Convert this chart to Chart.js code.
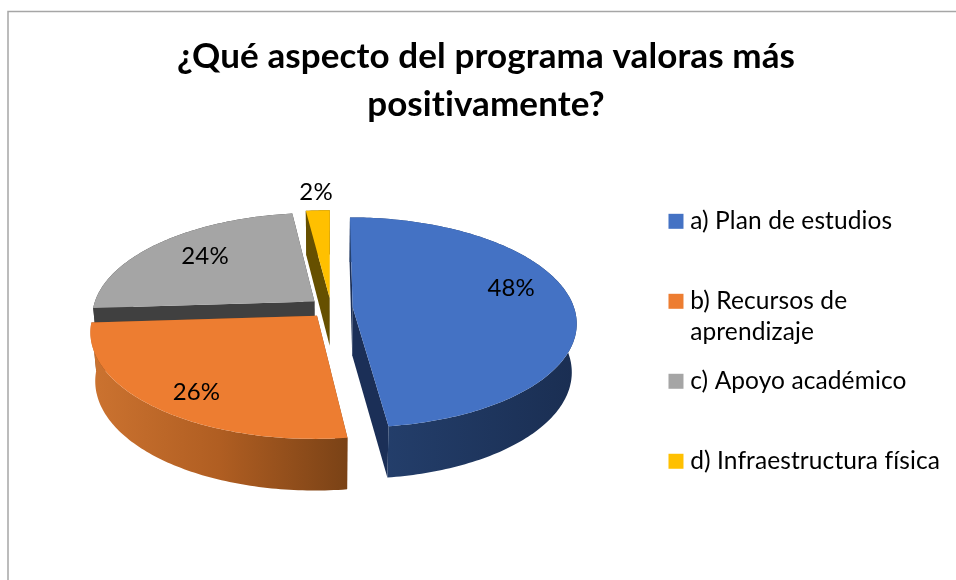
<!DOCTYPE html>
<html><head><meta charset="utf-8">
<style>html,body{margin:0;padding:0;background:#fff;overflow:hidden}canvas{display:block}</style>
<script src="https://cdn.jsdelivr.net/npm/chart.js@4"></script></head>
<body><canvas id="c" width="956" height="580"></canvas>
<script>
const titleLines = ['¿Qué aspecto del programa valoras más', 'positivamente?'];
const categories = [['a) Plan de estudios', ''], ['b) Recursos de', 'aprendizaje'], ['c) Apoyo académico', ''], ['d) Infraestructura física', '']];
const values = [48, 26, 24, 2];
const faceColors = ['#4472C4', '#ED7D31', '#A5A5A5', '#FFC000'];
const innerWallColors = ['#1b2f57', '#7f4317', '#404040', '#665000'];
const outerWallStops = [['#25416f', '#1a2e52'], ['#cc7330', '#b05e22', '#7a4216'], ['#404040', '#404040'], ['#665000', '#665000']];
const labelNudges = [[5, -14.5], [-11, 15], [1, -3], [-5, -42]];

const FONT = 'Lato, "Open Sans", sans-serif';
const view = {cx: 331, cy: 308, R: 221.5, Ry: 103, k: 1 / 7, explode: 0.098, depth: 48, labelR: 0.7};

function project(u, v) {
  const w = 1 - view.k * v;
  return {x: view.cx + u * view.R / w, y: view.cy + v * view.Ry / w, v};
}
function lower(p) {
  return {x: view.cx + (p.x - view.cx) * 0.98, y: p.y + view.depth * (1 + 0.07 * p.v)};
}
function polygon(ctx, pts) {
  ctx.beginPath();
  pts.forEach((p, i) => i ? ctx.lineTo(p.x, p.y) : ctx.moveTo(p.x, p.y));
  ctx.closePath();
}

const pie3d = {
  id: 'pie3d',
  beforeDraw(chart) {
    const ctx = chart.ctx;
    ctx.letterSpacing = '0.1px';
    ctx.save();
    ctx.fillStyle = '#fff';
    ctx.fillRect(0, 0, chart.width, chart.height);
    ctx.strokeStyle = '#a6a6a6';
    ctx.lineWidth = 1.5;
    ctx.strokeRect(8, 11.5, 1200, 800);
    ctx.restore();
  },
  beforeDatasetsDraw(chart) {
    const ctx = chart.ctx;
    const arcs = chart.getDatasetMeta(0).data;
    const order = [3, 2, 1, 0];
    ctx.save();
    order.forEach(i => {
      const a = arcs[i];
      const s = a.startAngle + Math.PI / 2, e = a.endAngle + Math.PI / 2, m = (s + e) / 2;
      const u0 = view.explode * Math.sin(m), v0 = -view.explode * Math.cos(m);
      const at = (t, r = 1) => project(u0 + r * Math.sin(t), v0 - r * Math.cos(t));
      const n = Math.max(2, Math.ceil((e - s) / (Math.PI / 180)));
      const rim = [];
      for (let j = 0; j <= n; j++) rim.push(at(s + (e - s) * j / n));
      const apex = at(0, 0);
      ctx.fillStyle = innerWallColors[i];
      [rim[0], rim[n]].forEach(p => {
        polygon(ctx, [apex, p, lower(p), lower(apex)]);
        ctx.fill();
      });
      const xs = rim.map(p => p.x);
      const grad = ctx.createLinearGradient(Math.min(...xs), 0, Math.max(...xs), 0);
      const stops = outerWallStops[i];
      stops.forEach((c, j) => grad.addColorStop(j / (stops.length - 1), c));
      ctx.fillStyle = grad;
      polygon(ctx, rim.concat(rim.map(lower).reverse()));
      ctx.fill();
      ctx.fillStyle = faceColors[i];
      polygon(ctx, [apex].concat(rim));
      ctx.fill();
    });
    ctx.fillStyle = '#000';
    ctx.font = '24px ' + FONT;
    ctx.textAlign = 'center';
    ctx.textBaseline = 'middle';
    const total = values.reduce((p, c) => p + c, 0);
    arcs.forEach((a, i) => {
      const m = (a.startAngle + a.endAngle) / 2 + Math.PI / 2;
      const u0 = view.explode * Math.sin(m), v0 = -view.explode * Math.cos(m);
      const p = project(u0 + view.labelR * Math.sin(m), v0 - view.labelR * Math.cos(m));
      ctx.fillText(Math.round(values[i] / total * 100) + '%', p.x + labelNudges[i][0], p.y + labelNudges[i][1]);
    });
    ctx.restore();
    return false;
  }
};

new Chart(document.getElementById('c'), {
  type: 'pie',
  data: {labels: categories, datasets: [{data: values, backgroundColor: faceColors, borderWidth: 0}]},
  plugins: [pie3d],
  options: {
    responsive: false,
    animation: false,
    layout: {padding: {left: 25, right: 9, top: 32, bottom: 51}},
    plugins: {
      tooltip: {enabled: false},
      title: {display: true, text: titleLines, color: '#000', padding: {top: 0, bottom: 10},
        font: {family: FONT, size: 35, weight: 'bold', lineHeight: 1.39}},
      legend: {
        position: 'right', align: 'end',
        labels: {boxWidth: 4, boxHeight: 4, padding: 18, color: '#000',
          font: {family: FONT, size: 24.5, lineHeight: 1.265},
          generateLabels: chart => Chart.overrides.pie.plugins.legend.labels.generateLabels(chart)
            .map(item => ({...item, strokeStyle: item.fillStyle, lineWidth: 11}))}
      }
    }
  }
});
</script></body></html>
